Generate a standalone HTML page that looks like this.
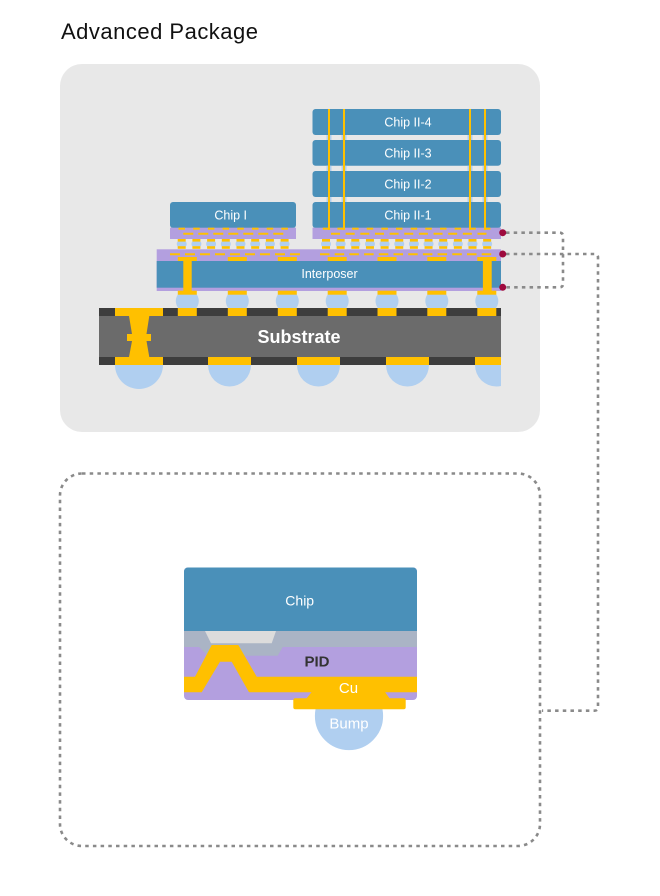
<!DOCTYPE html>
<html>
<head>
<meta charset="utf-8">
<style>
  html,body{margin:0;padding:0;background:#ffffff;}
  svg{display:block;}
  text{font-family:"Liberation Sans","Noto Sans CJK SC",sans-serif;}
</style>
</head>
<body>
<svg width="660" height="896" viewBox="0 0 660 896" xmlns="http://www.w3.org/2000/svg">
  <defs>
    <clipPath id="stackClip"><rect x="0" y="0" width="501" height="896"/></clipPath>
    <clipPath id="detailClip"><rect x="184" y="567.5" width="233" height="132.5" rx="4"/></clipPath>
  </defs>

  <!-- Title -->
  <text x="61" y="39" font-size="22" fill="#111111" textLength="197" lengthAdjust="spacing">Advanced Package</text>

  <!-- Gray panel -->
  <rect x="60" y="64" width="480" height="368" rx="22" fill="#e8e8e8"/>

  <g clip-path="url(#stackClip)">
    <!-- Large bottom bumps -->
    <g fill="#b0cff0">
      <circle cx="139" cy="365" r="24"/>
      <circle cx="229.5" cy="365" r="21.5"/>
      <circle cx="318.5" cy="365" r="21.5"/>
      <circle cx="407.5" cy="365" r="21.5"/>
      <circle cx="496.5" cy="365" r="21.5"/>
    </g>

    <!-- Interposer-substrate bumps -->
    <g fill="#b0cff0">
      <circle cx="187.3" cy="301" r="11.5"/>
      <circle cx="237.3" cy="301" r="11.5"/>
      <circle cx="287.3" cy="301" r="11.5"/>
      <circle cx="337.2" cy="301" r="11.5"/>
      <circle cx="387" cy="301" r="11.5"/>
      <circle cx="436.8" cy="301" r="11.5"/>
      <circle cx="486.8" cy="301" r="11.5"/>
    </g>

    <!-- Substrate -->
    <rect x="99" y="308" width="402" height="57" fill="#3d3d3d"/>
    <rect x="99" y="316" width="402" height="41" fill="#6b6b6b"/>
    <g fill="#ffc000">
      <rect x="115" y="308" width="48" height="8"/>
      <rect x="177.8" y="308" width="19" height="8"/>
      <rect x="227.8" y="308" width="19" height="8"/>
      <rect x="277.8" y="308" width="19" height="8"/>
      <rect x="327.7" y="308" width="19" height="8"/>
      <rect x="377.5" y="308" width="19" height="8"/>
      <rect x="427.3" y="308" width="19" height="8"/>
      <rect x="477.3" y="308" width="19" height="8"/>
      <rect x="115" y="357" width="48" height="8"/>
      <rect x="208" y="357" width="43" height="8"/>
      <rect x="297" y="357" width="43" height="8"/>
      <rect x="386" y="357" width="43" height="8"/>
      <rect x="475" y="357" width="43" height="8"/>
      <polygon points="129,316 149.3,316 146.5,334 151,334 151,341 146.5,341 149.3,357 129,357 132,341 127,341 127,334 132,334"/>
    </g>
    <text x="299" y="343" font-size="18" font-weight="bold" fill="#ffffff" text-anchor="middle">Substrate</text>

    <!-- Interposer -->
    <rect x="156.7" y="249.3" width="345" height="41.7" fill="#b39fdf"/>
    <rect x="156.7" y="261" width="345" height="26.7" fill="#4a90b9"/>
    <g stroke="#ffc000" stroke-width="2">
      <line x1="170" y1="254.3" x2="300" y2="254.3" stroke-dasharray="10 5"/>
      <line x1="320" y1="254.3" x2="492" y2="254.3" stroke-dasharray="9.5 5.2"/>
    </g>
    <g fill="#ffc000">
      <rect x="177.8" y="257" width="19" height="4"/>
      <rect x="227.8" y="257" width="19" height="4"/>
      <rect x="277.8" y="257" width="19" height="4"/>
      <rect x="327.7" y="257" width="19" height="4"/>
      <rect x="377.5" y="257" width="19" height="4"/>
      <rect x="427.3" y="257" width="19" height="4"/>
      <rect x="477.3" y="257" width="19" height="4"/>
      <rect x="177.8" y="290.7" width="19" height="4"/>
      <rect x="227.8" y="290.7" width="19" height="4"/>
      <rect x="277.8" y="290.7" width="19" height="4"/>
      <rect x="327.7" y="290.7" width="19" height="4"/>
      <rect x="377.5" y="290.7" width="19" height="4"/>
      <rect x="427.3" y="290.7" width="19" height="4"/>
      <rect x="477.3" y="290.7" width="19" height="4"/>
      <rect x="183.3" y="261" width="8.4" height="30"/>
      <rect x="482.9" y="261" width="8.8" height="30"/>
    </g>
    <text x="329.5" y="278" font-size="12.5" fill="#ffffff" text-anchor="middle">Interposer</text>

    <!-- Microbumps Chip I -->
    <g>
      <g fill="#b0cff0">
        <ellipse cx="181.7" cy="244" rx="5" ry="4.3"/>
        <ellipse cx="196.4" cy="244" rx="5" ry="4.3"/>
        <ellipse cx="211.1" cy="244" rx="5" ry="4.3"/>
        <ellipse cx="225.8" cy="244" rx="5" ry="4.3"/>
        <ellipse cx="240.5" cy="244" rx="5" ry="4.3"/>
        <ellipse cx="255.2" cy="244" rx="5" ry="4.3"/>
        <ellipse cx="269.9" cy="244" rx="5" ry="4.3"/>
        <ellipse cx="284.6" cy="244" rx="5" ry="4.3"/>
      </g>
      <g fill="#ffc000">
        <rect x="177.7" y="239" width="8" height="2.6"/><rect x="177.7" y="246.2" width="8" height="2.6"/>
        <rect x="192.4" y="239" width="8" height="2.6"/><rect x="192.4" y="246.2" width="8" height="2.6"/>
        <rect x="207.1" y="239" width="8" height="2.6"/><rect x="207.1" y="246.2" width="8" height="2.6"/>
        <rect x="221.8" y="239" width="8" height="2.6"/><rect x="221.8" y="246.2" width="8" height="2.6"/>
        <rect x="236.5" y="239" width="8" height="2.6"/><rect x="236.5" y="246.2" width="8" height="2.6"/>
        <rect x="251.2" y="239" width="8" height="2.6"/><rect x="251.2" y="246.2" width="8" height="2.6"/>
        <rect x="265.9" y="239" width="8" height="2.6"/><rect x="265.9" y="246.2" width="8" height="2.6"/>
        <rect x="280.6" y="239" width="8" height="2.6"/><rect x="280.6" y="246.2" width="8" height="2.6"/>
      </g>
    </g>

    <!-- Microbumps Chip II -->
    <g>
      <g fill="#b0cff0">
        <ellipse cx="326" cy="244" rx="5" ry="4.3"/>
        <ellipse cx="340.65" cy="244" rx="5" ry="4.3"/>
        <ellipse cx="355.3" cy="244" rx="5" ry="4.3"/>
        <ellipse cx="369.95" cy="244" rx="5" ry="4.3"/>
        <ellipse cx="384.6" cy="244" rx="5" ry="4.3"/>
        <ellipse cx="399.25" cy="244" rx="5" ry="4.3"/>
        <ellipse cx="413.9" cy="244" rx="5" ry="4.3"/>
        <ellipse cx="428.55" cy="244" rx="5" ry="4.3"/>
        <ellipse cx="443.2" cy="244" rx="5" ry="4.3"/>
        <ellipse cx="457.85" cy="244" rx="5" ry="4.3"/>
        <ellipse cx="472.5" cy="244" rx="5" ry="4.3"/>
        <ellipse cx="487.15" cy="244" rx="5" ry="4.3"/>
      </g>
      <g fill="#ffc000">
        <rect x="322" y="239" width="8" height="2.6"/><rect x="322" y="246.2" width="8" height="2.6"/>
        <rect x="336.65" y="239" width="8" height="2.6"/><rect x="336.65" y="246.2" width="8" height="2.6"/>
        <rect x="351.3" y="239" width="8" height="2.6"/><rect x="351.3" y="246.2" width="8" height="2.6"/>
        <rect x="365.95" y="239" width="8" height="2.6"/><rect x="365.95" y="246.2" width="8" height="2.6"/>
        <rect x="380.6" y="239" width="8" height="2.6"/><rect x="380.6" y="246.2" width="8" height="2.6"/>
        <rect x="395.25" y="239" width="8" height="2.6"/><rect x="395.25" y="246.2" width="8" height="2.6"/>
        <rect x="409.9" y="239" width="8" height="2.6"/><rect x="409.9" y="246.2" width="8" height="2.6"/>
        <rect x="424.55" y="239" width="8" height="2.6"/><rect x="424.55" y="246.2" width="8" height="2.6"/>
        <rect x="439.2" y="239" width="8" height="2.6"/><rect x="439.2" y="246.2" width="8" height="2.6"/>
        <rect x="453.85" y="239" width="8" height="2.6"/><rect x="453.85" y="246.2" width="8" height="2.6"/>
        <rect x="468.5" y="239" width="8" height="2.6"/><rect x="468.5" y="246.2" width="8" height="2.6"/>
        <rect x="483.15" y="239" width="8" height="2.6"/><rect x="483.15" y="246.2" width="8" height="2.6"/>
      </g>
    </g>

    <!-- Chip I -->
    <rect x="170" y="202" width="126" height="26" rx="3" fill="#4a90b9"/>
    <rect x="170" y="227.7" width="126" height="11.3" fill="#b39fdf"/>
    <line x1="183.3" y1="233.7" x2="285" y2="233.7" stroke="#ffc000" stroke-width="2" stroke-dasharray="10 5"/>
    <g fill="#ffc000">
      <rect x="178.5" y="227.7" width="6.5" height="2"/>
      <rect x="193.2" y="227.7" width="6.5" height="2"/>
      <rect x="207.9" y="227.7" width="6.5" height="2"/>
      <rect x="222.6" y="227.7" width="6.5" height="2"/>
      <rect x="237.3" y="227.7" width="6.5" height="2"/>
      <rect x="252" y="227.7" width="6.5" height="2"/>
      <rect x="266.7" y="227.7" width="6.5" height="2"/>
      <rect x="281.4" y="227.7" width="6.5" height="2"/>
    </g>
    <text x="230.7" y="219.3" font-size="12.5" fill="#ffffff" text-anchor="middle">Chip I</text>

    <!-- Chip II stack -->
    <g fill="#4a90b9">
      <rect x="312.5" y="109" width="188.5" height="26" rx="3"/>
      <rect x="312.5" y="140" width="188.5" height="25.7" rx="3"/>
      <rect x="312.5" y="171" width="188.5" height="26" rx="3"/>
      <rect x="312.5" y="202" width="188.5" height="26" rx="3"/>
    </g>
    <rect x="312.5" y="227.7" width="188.5" height="11.3" fill="#b39fdf"/>
    <line x1="331" y1="233.7" x2="490" y2="233.7" stroke="#ffc000" stroke-width="2" stroke-dasharray="9 5.65"/>
    <g fill="#ffc000">
      <rect x="322.8" y="227.7" width="6.5" height="2"/>
      <rect x="337.4" y="227.7" width="6.5" height="2"/>
      <rect x="352.1" y="227.7" width="6.5" height="2"/>
      <rect x="366.7" y="227.7" width="6.5" height="2"/>
      <rect x="381.4" y="227.7" width="6.5" height="2"/>
      <rect x="396" y="227.7" width="6.5" height="2"/>
      <rect x="410.7" y="227.7" width="6.5" height="2"/>
      <rect x="425.3" y="227.7" width="6.5" height="2"/>
      <rect x="440" y="227.7" width="6.5" height="2"/>
      <rect x="454.6" y="227.7" width="6.5" height="2"/>
      <rect x="469.3" y="227.7" width="6.5" height="2"/>
      <rect x="483.9" y="227.7" width="6.5" height="2"/>
    </g>
    <g fill="#b0cff0">
      <rect x="326.5" y="135" width="5" height="5"/><rect x="341.5" y="135" width="5" height="5"/>
      <rect x="467.5" y="135" width="5" height="5"/><rect x="482.5" y="135" width="5" height="5"/>
      <rect x="326.5" y="165.7" width="5" height="5.3"/><rect x="341.5" y="165.7" width="5" height="5.3"/>
      <rect x="467.5" y="165.7" width="5" height="5.3"/><rect x="482.5" y="165.7" width="5" height="5.3"/>
      <rect x="326.5" y="197" width="5" height="5"/><rect x="341.5" y="197" width="5" height="5"/>
      <rect x="467.5" y="197" width="5" height="5"/><rect x="482.5" y="197" width="5" height="5"/>
    </g>
    <g fill="#ffc000">
      <rect x="328" y="109" width="2" height="121"/>
      <rect x="343" y="109" width="2" height="121"/>
      <rect x="469" y="109" width="2" height="121"/>
      <rect x="484" y="109" width="2" height="121"/>
    </g>
    <g font-size="12.5" fill="#ffffff" text-anchor="middle">
      <text x="408" y="126.5">Chip II-4</text>
      <text x="408" y="157.5">Chip II-3</text>
      <text x="408" y="188.5">Chip II-2</text>
      <text x="408" y="219.5">Chip II-1</text>
    </g>
  </g>

  <!-- Connector dotted lines -->
  <g fill="none" stroke="#8a8a8a" stroke-width="2.6" stroke-dasharray="3.5 4.2">
    <path d="M506,232.7 H559.5 Q563,232.7 563,236.2 V283.8 Q563,287.3 559.5,287.3 H506"/>
    <path d="M506,254 H594.5 Q598,254 598,257.5 V707.2 Q598,710.7 594.5,710.7 H542"/>
    <rect x="60" y="473.5" width="480" height="372.5" rx="22"/>
  </g>

  <!-- Red dots -->
  <g fill="#9e0a3e">
    <circle cx="502.7" cy="232.7" r="3.5"/>
    <circle cx="502.7" cy="254" r="3.5"/>
    <circle cx="502.7" cy="287.3" r="3.5"/>
  </g>

  <!-- Detail diagram -->
  <circle cx="349" cy="716" r="34.7" fill="#b0cff0" stroke="#ffffff" stroke-width="1.2"/>
  <g clip-path="url(#detailClip)">
    <rect x="184" y="567" width="233" height="133" fill="#b39fdf"/>
    <rect x="184" y="567" width="233" height="64" fill="#4a90b9"/>
    <rect x="184" y="631" width="233" height="16" fill="#aab4c5"/>
    <polygon points="199,647 208,655.7 277.7,655.7 282.7,647" fill="#aab4c5"/>
    <polygon points="205,631 276,631 271.7,643.3 211,643.3" fill="#dcdcdc"/>
    <polygon fill="#ffc000" points="184,676.7 195,676.7 211.7,645 238.3,645 256.7,676.7 417,676.7 417,692.3 249,692.3 231.7,661.7 220,661.7 201.7,692.3 184,692.3"/>
  </g>
  <polygon points="311.7,692 385,692 390,699 306,699" fill="#ffc000"/>
  <rect x="293.3" y="698.3" width="112.4" height="11" rx="2" fill="#ffc000"/>

  <text x="299.7" y="605.5" font-size="14" fill="#ffffff" text-anchor="middle">Chip</text>
  <text x="317" y="666.7" font-size="15" font-weight="bold" fill="#333333" text-anchor="middle">PID</text>
  <text x="348.5" y="693" font-size="15" fill="#ffffff" text-anchor="middle">Cu</text>
  <text x="349" y="728.3" font-size="15" fill="#ffffff" text-anchor="middle">Bump</text>
</svg>
</body>
</html>
